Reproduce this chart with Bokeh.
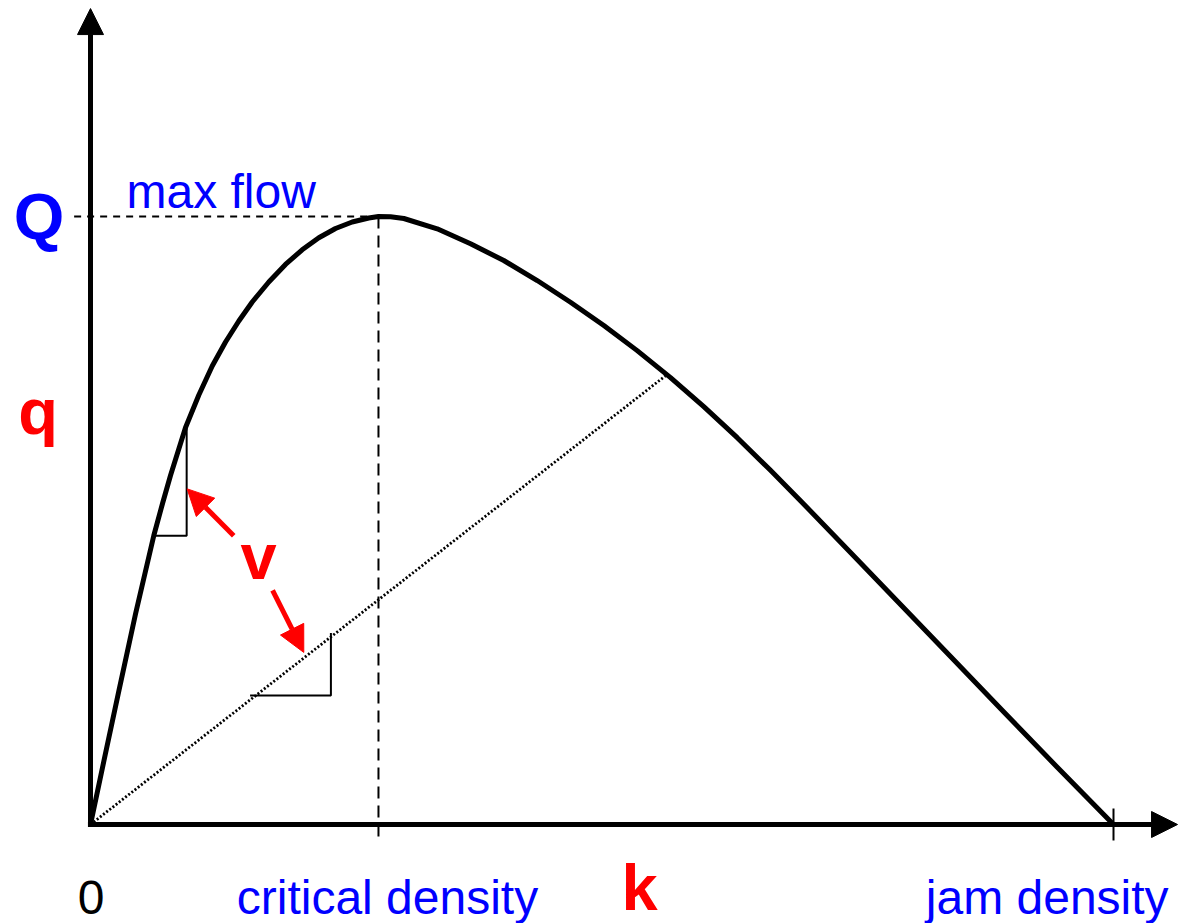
from bokeh.plotting import figure
from bokeh.models import Arrow, NormalHead, Range1d
from bokeh.core.properties import value
from bokeh.embed import file_html
from bokeh.resources import INLINE

# ---- data (k as % of jam density, q as % of max flow) ----
curve_k = [0.0, 1.37, 2.77, 4.40, 6.19, 7.04, 7.82, 9.29, 10.59, 11.90, 13.20, 14.50,
           15.81, 17.43, 19.06, 20.69, 22.32, 23.95, 25.58, 27.20, 28.15, 29.33, 30.63,
           33.89, 37.15, 40.40, 43.67, 46.92, 50.18, 53.44, 56.70, 59.95, 63.22, 66.47,
           69.40, 74.29, 79.18, 84.07, 88.95, 94.43, 100.0]
curve_q = [0.0, 10.94, 21.96, 34.62, 47.53, 52.80, 57.40, 65.30, 70.64, 75.41, 79.36,
           82.81, 85.94, 89.23, 92.11, 94.52, 96.50, 98.03, 99.10, 99.75, 100.0, 99.95,
           99.67, 97.98, 95.51, 92.76, 89.47, 85.90, 82.06, 77.94, 73.50, 68.72, 63.62,
           58.26, 53.26, 44.74, 36.18, 27.63, 19.08, 9.54, 0.0]

k_crit = 28.15
k_jam = 100.0
q_max = 100.0

# ray from origin to a point on the congested branch
ray_k = [0.0, 56.2]
ray_q = [0.0, 73.8]

# slope triangles
tri1_k = [6.1, 9.4, 9.4]
tri1_q = [47.5, 47.5, 65.3]
tri2_k = [15.6, 23.5, 23.5]
tri2_q = [21.2, 21.2, 31.5]

# red arrows (start -> end)
arrows_red = [((14.0, 47.5), (9.45, 55.2)), ((17.8, 38.5), (20.85, 28.3))]

blue_labels = ["max flow", "critical density", "jam density"]
red_labels = ["q", "k", "v"]

# ---- figure ----
W, H = 1188, 923
kx = 10.23   # px per unit k
qy = 6.08    # px per unit q
x0 = -90 / kx
y0 = -(H - 824) / qy
p = figure(width=W, height=H, output_backend="svg", toolbar_location=None,
           x_range=Range1d(x0, x0 + W / kx), y_range=Range1d(y0, y0 + H / qy),
           min_border=0)
p.axis.visible = False
p.grid.visible = False
p.outline_line_color = None
p.background_fill_color = "white"
p.border_fill_color = "white"

FONT = value("Liberation Sans")

# dashed guides
p.line([-1.6, k_crit], [q_max, q_max], line_color="black", line_width=2, line_dash="7 6")
p.line([k_crit, k_crit], [q_max, -2.63], line_color="black", line_width=2, line_dash="12 7")
# jam density tick
p.line([k_jam, k_jam], [2.63, -2.63], line_color="black", line_width=2)

# dotted ray
p.line(ray_k, ray_q, line_color="black", line_width=2.8, line_dash="2 2")

# triangles
p.line(tri1_k, tri1_q, line_color="black", line_width=2)
p.line(tri2_k, tri2_q, line_color="black", line_width=2)

# curve
p.line(curve_k, curve_q, line_color="black", line_width=5, line_join="round")

# axes with arrow heads
p.add_layout(Arrow(end=NormalHead(size=26, fill_color="black", line_color="black", line_width=1),
                   x_start=0, y_start=-0.4, x_end=0, y_end=134.2,
                   line_color="black", line_width=5))
p.add_layout(Arrow(end=NormalHead(size=26, fill_color="black", line_color="black", line_width=1),
                   x_start=-0.25, y_start=0, x_end=106.26, y_end=0,
                   line_color="black", line_width=5))

# red arrows
for (xs, ys), (xe, ye) in arrows_red:
    p.add_layout(Arrow(end=NormalHead(size=26, fill_color="#ff0000", line_color="#ff0000", line_width=1),
                       x_start=xs, y_start=ys, x_end=xe, y_end=ye,
                       line_color="#ff0000", line_width=5))

# labels
p.text(x=[3.52], y=[104.16], text=[blue_labels[0]], text_font=FONT, text_font_size="48px",
       text_color="#0000ff", text_align="left", text_baseline="middle")
p.text(x=[29.03, 93.52], y=[-11.96, -11.96], text=blue_labels[1:], text_font=FONT,
       text_font_size="48px", text_color="#0000ff", text_align="center",
       text_baseline="middle")
p.text(x=[0.06], y=[-11.96], text=["0"], text_font=FONT, text_font_size="48px",
       text_color="black", text_align="center", text_baseline="middle")
p.text(x=[-5.03], y=[99.92], text=["Q"], text_font=FONT, text_font_size="65px",
       text_font_style="bold", text_color="#0000ff", text_align="center",
       text_baseline="middle")
p.text(x=[-5.13, 53.67, 16.42], y=[68.0, -10.4, 44.16], text=red_labels, text_font=FONT,
       text_font_size="65px", text_font_style="bold", text_color="#ff0000",
       text_align="center", text_baseline="middle")

open("out.html", "w").write(file_html(p, INLINE))
